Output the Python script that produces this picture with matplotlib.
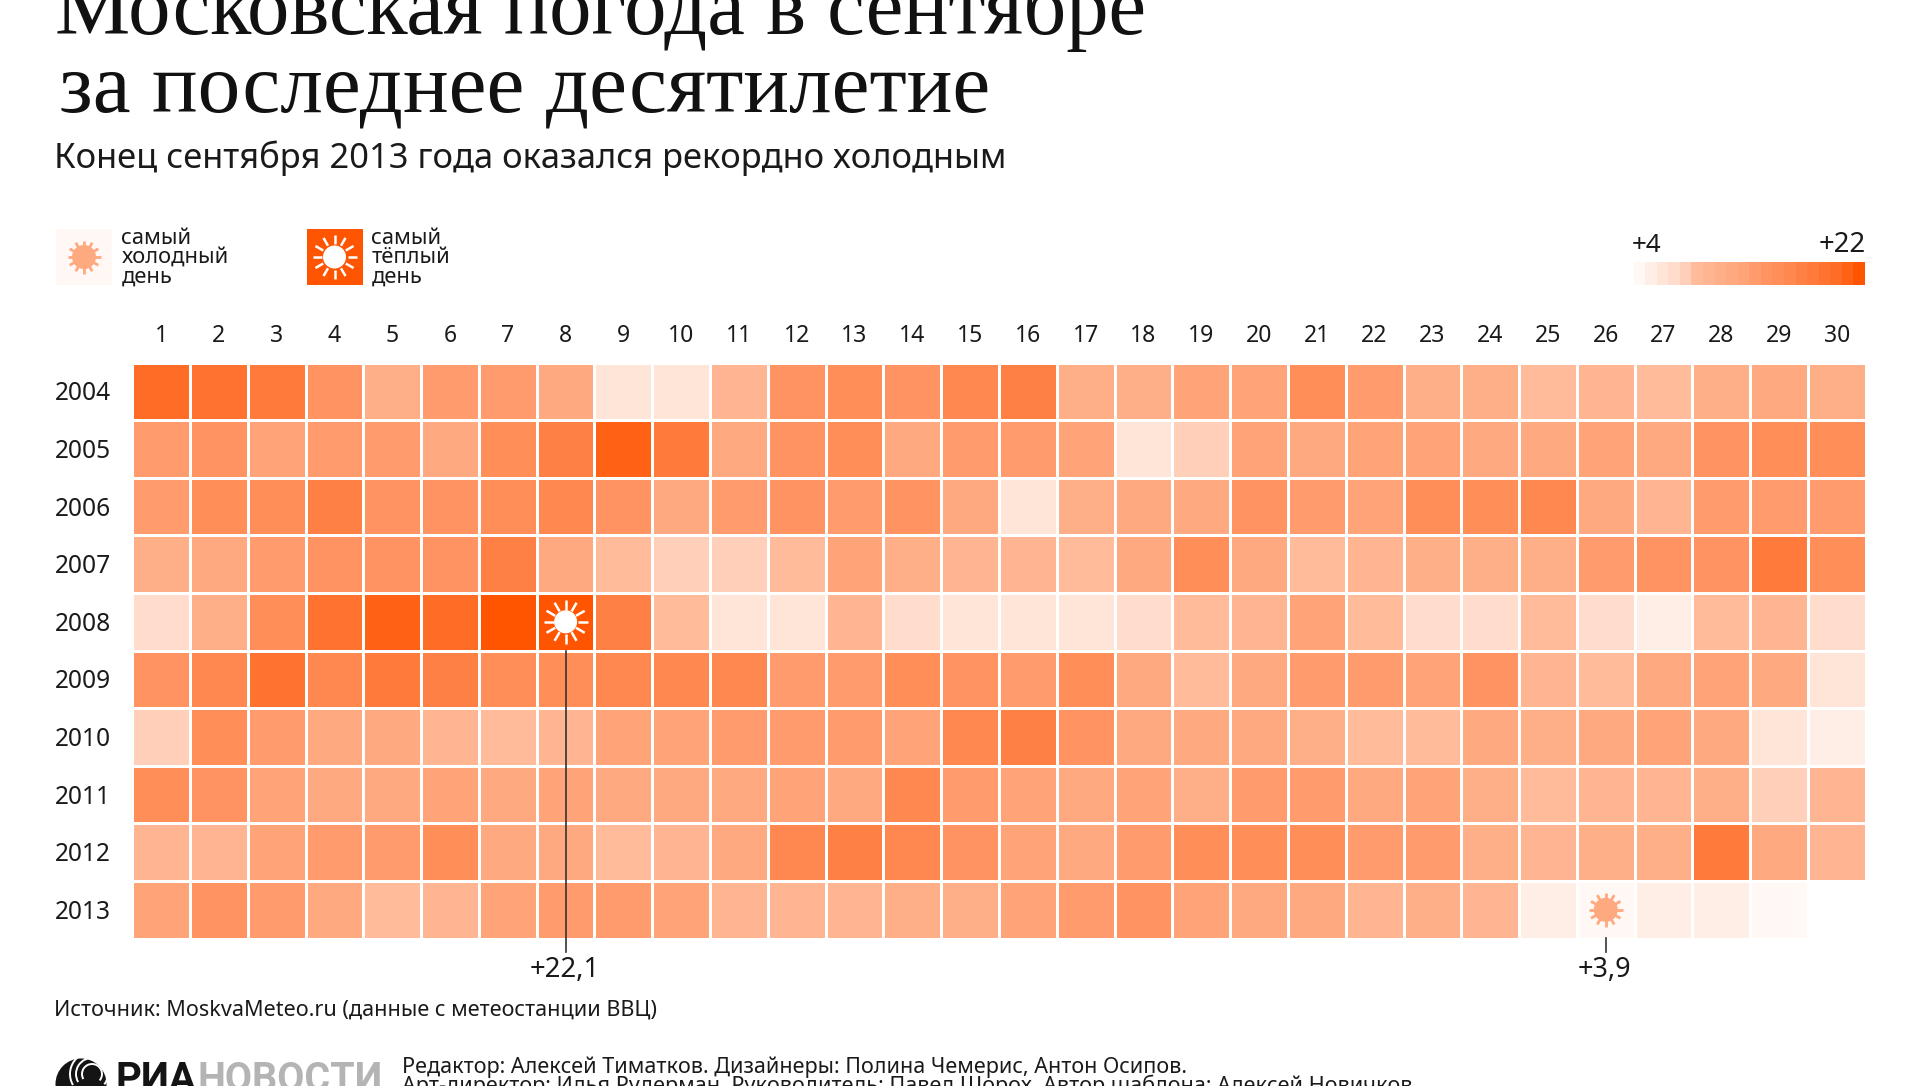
import numpy as np
import matplotlib
matplotlib.use('Agg')
import matplotlib.pyplot as plt
from matplotlib.colors import ListedColormap, BoundaryNorm
from matplotlib.patches import Circle, Rectangle, Arc

# september temperatures, degrees C
days = list(range(1, 31))
years = [2004, 2005, 2006, 2007, 2008, 2009, 2010, 2011, 2012, 2013]

t2004 = [19.9, 19.0, 18.0, 14.4, 10.8, 13.5, 13.5, 11.7, 6.2, 6.2, 9.9, 14.4, 15.3, 14.4, 16.2,
         17.1, 10.8, 10.8, 12.6, 12.6, 15.3, 13.5, 10.8, 10.8, 8.9, 9.9, 8.9, 10.8, 11.7, 10.8]
t2005 = [13.5, 14.4, 12.6, 13.5, 13.5, 11.7, 15.3, 17.1, 20.8, 18.0, 11.7, 14.4, 15.3, 11.7, 13.5,
         13.5, 12.6, 6.2, 8.0, 12.6, 11.7, 12.6, 12.6, 11.7, 11.7, 12.6, 11.7, 14.4, 15.3, 15.3]
t2006 = [13.5, 15.3, 15.3, 17.1, 14.4, 14.4, 15.3, 16.2, 14.4, 11.7, 13.5, 14.4, 13.5, 14.4, 11.7,
         6.2, 10.8, 11.7, 11.7, 14.4, 13.5, 12.6, 15.3, 15.3, 16.2, 11.7, 9.9, 13.5, 13.5, 13.5]
t2007 = [10.8, 11.7, 13.5, 14.4, 14.4, 14.4, 17.1, 11.7, 8.9, 8.0, 8.0, 8.9, 12.6, 10.8, 9.9,
         9.9, 8.9, 11.7, 15.3, 11.7, 8.9, 9.9, 10.8, 10.8, 10.8, 13.5, 14.4, 14.4, 18.0, 15.3]
t2008 = [7.1, 10.8, 15.3, 19.0, 20.8, 19.9, 21.7, 22.1, 17.1, 8.9, 6.2, 6.2, 9.9, 7.1, 6.2,
         6.2, 6.2, 7.1, 8.9, 9.9, 12.6, 8.9, 7.1, 7.1, 8.9, 7.1, 5.3, 8.9, 9.9, 7.1]
t2009 = [14.4, 16.2, 19.0, 16.2, 18.0, 17.1, 15.3, 15.3, 16.2, 16.2, 16.2, 13.5, 13.5, 15.3, 14.4,
         13.5, 15.3, 11.7, 8.9, 11.7, 13.5, 13.5, 12.6, 14.4, 9.9, 8.9, 11.7, 12.6, 11.7, 6.2]
t2010 = [8.0, 15.3, 13.5, 11.7, 11.7, 9.9, 8.9, 9.9, 12.6, 12.6, 13.5, 13.5, 13.5, 12.6, 16.2,
         17.1, 14.4, 11.7, 11.7, 11.7, 10.8, 8.9, 8.9, 11.7, 10.8, 11.7, 12.6, 11.7, 6.2, 5.3]
t2011 = [15.3, 14.4, 12.6, 11.7, 11.7, 12.6, 11.7, 12.6, 11.7, 11.7, 11.7, 12.6, 11.7, 16.2, 13.5,
         12.6, 11.7, 12.6, 10.8, 13.5, 13.5, 11.7, 12.6, 10.8, 8.9, 9.9, 9.9, 10.8, 8.0, 9.9]
t2012 = [9.9, 9.9, 12.6, 13.5, 13.5, 15.3, 11.7, 11.7, 8.9, 9.9, 11.7, 16.2, 17.1, 16.2, 14.4,
         12.6, 11.7, 13.5, 15.3, 15.3, 15.3, 13.5, 13.5, 10.8, 9.9, 10.8, 10.8, 18.0, 11.7, 9.9]
t2013 = [12.6, 14.4, 13.5, 11.7, 8.9, 9.9, 12.6, 13.5, 13.5, 12.6, 9.9, 9.9, 9.9, 10.8, 10.8,
         12.6, 13.5, 14.4, 12.6, 11.7, 11.7, 9.9, 10.8, 9.9, 5.3, 3.9, 5.3, 5.3, 4.4, np.nan]

temps = np.array([t2004, t2005, t2006, t2007, t2008, t2009, t2010, t2011, t2012, t2013])

palette = ['#fff8f4', '#ffeee6', '#ffe4d8', '#ffdccc', '#ffcfb9', '#ffbb9a', '#ffb592', '#ffaf88',
           '#ffa981', '#ffa379', '#ff9b6c', '#ff9462', '#ff8e59', '#ff8750', '#ff8045', '#ff7a3b',
           '#ff7230', '#ff6c26', '#ff6214', '#ff5500']
cmap = ListedColormap(palette)
norm = BoundaryNorm(np.linspace(3.9, 22.1, 21), 20)

SANS = 'Noto Sans'
SERIF = 'Liberation Serif'
LOGO = 'Roboto'
INK = '#1a1a1a'
W, H = 1920, 1086


def pt(px):
    return px * 0.72


def pos(x0, y0, x1, y1):
    return [x0 / W, 1 - y1 / H, (x1 - x0) / W, (y1 - y0) / H]


def sun(ax, cx, cy, outer, inner, ray_from, color, lw):
    ax.add_patch(Circle((cx, cy), inner, color=color, lw=0, zorder=5))
    for a in np.arange(12) * np.pi / 6:
        ax.plot([cx + ray_from * np.cos(a), cx + outer * np.cos(a)],
                [cy + ray_from * np.sin(a), cy + outer * np.sin(a)],
                color=color, lw=lw, solid_capstyle='butt', zorder=5)


fig = plt.figure(figsize=(19.2, 10.86), dpi=100, facecolor='white')

# heatmap
grid_l, grid_r, grid_t, grid_b = 132.2, 1865.8, 362.6, 938.6
ax = fig.add_axes(pos(grid_l, grid_t, grid_r, grid_b))
ax.pcolormesh(np.arange(31), np.arange(11), np.ma.masked_invalid(temps), cmap=cmap, norm=norm,
              edgecolors='white', linewidth=1.0)
ax.set_ylim(10, 0)
ax.set_xlim(0, 30)
ax.axis('off')

# colour scale
ax2 = fig.add_axes(pos(1633.5, 262, 1865, 285))
ax2.pcolormesh(np.arange(21), [0, 1], np.arange(20)[None, :], cmap=cmap)
ax2.axis('off')

# everything else is placed in pixels on a see-through overlay
ov = fig.add_axes([0, 0, 1, 1], facecolor='none')
ov.set_xlim(0, W)
ov.set_ylim(H, 0)
ov.axis('off')

cw = (grid_r - grid_l) / 30
rh = (grid_b - grid_t) / 10

ov.text(55, 34, 'Московская погода в сентябре', family=SERIF, fontsize=pt(84.6), color='#111111', va='baseline')
ov.text(59, 112, 'за последнее десятилетие', family=SERIF, fontsize=pt(85.2), color='#111111', va='baseline')
ov.text(54, 168, 'Конец сентября 2013 года оказался рекордно холодным', family=SANS, fontsize=pt(34.5),
        color=INK, va='baseline')

for i, d in enumerate(days):
    ov.text(grid_l + (i + 0.5) * cw, 336, str(d), family=SANS, fontsize=pt(23), color=INK, ha='center', va='center')
for i, y in enumerate(years):
    ov.text(54.5, grid_t + (i + 0.5) * rh + 2.5, str(y), family=SANS, fontsize=pt(24.5), color=INK, va='center')

# legend
ov.add_patch(Rectangle((56, 229), 56, 56, color=palette[0], lw=0))
sun(ov, 84, 257, 16.5, 12, 10, palette[8], 2)
ov.add_patch(Rectangle((306.5, 229), 56, 56, color=palette[19], lw=0))
sun(ov, 334.5, 257, 22, 11.5, 13, 'white', 1.8)
for x, words in [(121.5, ['самый', 'холодный', 'день']), (371.5, ['самый', 'тёплый', 'день'])]:
    for j, w in enumerate(words):
        ov.text(x, 238 + j * 19.6, w, family=SANS, fontsize=pt(22), color=INK, va='center')

ov.text(1632, 245, '+4', family=SANS, fontsize=pt(26), color=INK, va='center')
ov.text(1866, 245, '+22', family=SANS, fontsize=pt(27.5), color=INK, va='center', ha='right')

# hottest and coldest day
r, c = np.unravel_index(np.nanargmax(temps), temps.shape)
hx, hy = grid_l + (c + 0.5) * cw, grid_t + (r + 0.5) * rh
sun(ov, hx, hy, 22, 11.5, 12, 'white', 1.8)
ov.plot([hx, hx], [grid_t + (r + 1) * rh, 952], color='#333333', lw=1.2)
ov.text(hx - 1, 970, '+22,1', family=SANS, fontsize=pt(27.5), color=INK, ha='center', va='center')

r, c = np.unravel_index(np.nanargmin(temps), temps.shape)
cx, cy = grid_l + (c + 0.5) * cw, grid_t + (r + 0.5) * rh
sun(ov, cx, cy, 17, 12, 10, palette[8], 2)
ov.plot([cx, cx], [938, 952], color='#333333', lw=1.2)
ov.text(cx - 1, 970, '+3,9', family=SANS, fontsize=pt(27), color=INK, ha='center', va='center')

# source and footer
ov.text(54.5, 1010, 'Источник: MoskvaMeteo.ru (данные с метеостанции ВВЦ)', family=SANS, fontsize=pt(21.6),
        color=INK, va='center')

ov.add_patch(Circle((81, 1084), 25.5, color='#141414', lw=0))
for rad in [10, 16, 22]:
    ov.add_patch(Arc((92, 1074), rad * 2, rad * 2, theta1=150, theta2=400, color='white', lw=1.4))
ov.text(115, 1091, 'РИА', family=LOGO, weight='bold', fontsize=pt(40), color='#141414', va='baseline')
ov.text(197, 1091, 'НОВОСТИ', family=LOGO, weight='bold', fontsize=pt(39.5), color='#b4b4b4', va='baseline')
ov.text(402, 1067, 'Редактор: Алексей Тиматков. Дизайнеры: Полина Чемерис, Антон Осипов.', family=SANS,
        fontsize=pt(21.5), color=INK, va='center')
ov.text(402, 1086, 'Арт-директор: Илья Рудерман. Руководитель: Павел Шорох. Автор шаблона: Алексей Новичков',
        family=SANS, fontsize=pt(21.6), color=INK, va='center')

fig.savefig('out.png', dpi=100, facecolor='white')
